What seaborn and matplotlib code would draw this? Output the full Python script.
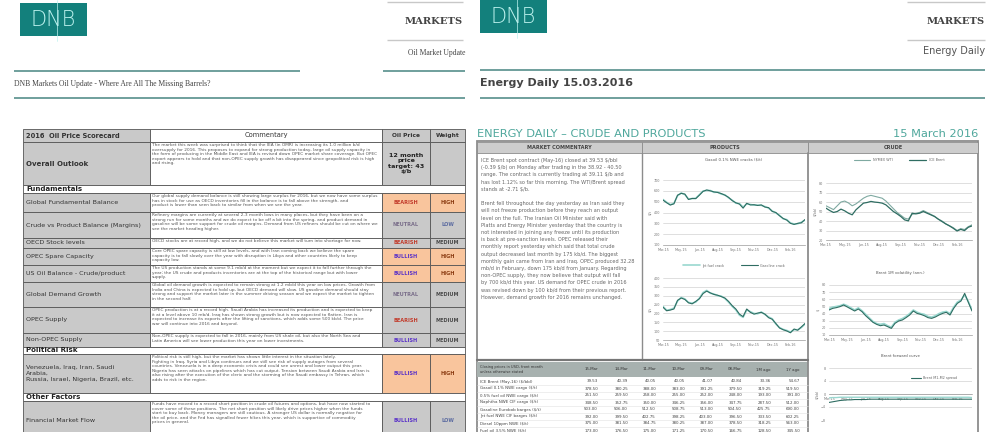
import textwrap
import pandas as pd
import matplotlib
matplotlib.use("Agg")
import matplotlib.pyplot as plt
from matplotlib.patches import Rectangle
import seaborn as sns

sns.set_theme(style="white")
plt.rcParams['font.family'] = ['DejaVu Sans']

W, H = 995, 432
TEAL = "#13807c"
RULE = "#6f9f9c"
GRAY = "#c9c9c9"
ORANGE = "#f9c59d"
DARK = "#2f6d62"
LIGHT = "#9ad8d0"

# ---- left page: oil price scorecard ----
score_labels = ["Overall Outlook", "Fundamentals", "Global Fundamental Balance",
                "Crude vs Product Balance (Margins)", "OECD Stock levels", "OPEC Spare Capacity",
                "US Oil Balance - Crude/product", "Global Demand Growth", "OPEC Supply",
                "Non-OPEC Supply", "Political Risk",
                "Venezuela, Iraq, Iran, Saudi\nArabia,\nRussia, Israel, Nigeria, Brazil, etc.",
                "Other Factors", "Financial Market Flow"]
score_signal = ["12 month\nprice\ntarget: 43\n$/b", None, "BEARISH", "NEUTRAL", "BEARISH", "BULLISH",
                "BULLISH", "NEUTRAL", "BEARISH", "BULLISH", None, "BULLISH", None, "BULLISH"]
score_weight = ["", None, "HIGH", "LOW", "MEDIUM", "HIGH", "HIGH", "MEDIUM", "MEDIUM", "MEDIUM",
                None, "HIGH", None, "LOW"]
score_comment = [
    "The market this week was surprised to think that the IEA (in OMR) is increasing its 1.0 million b/d oversupply for 2016. This proposes to expand for strong production today, large oil supply capacity in the form of producing in the Middle East and IEA is revised down OPEC market share coverage. But OPEC export appears to hold and that non-OPEC supply growth has disappeared since geopolitical risk is high and rising.",
    "Our global supply demand balance is still showing large surplus for 2016, but we now have some surplus has in stock for use as OECD inventories fill in the balance is to fall above the strength, and product is lower than seen back to similar from when we see the year.",
    "Refinery margins are currently at several 2-3 month lows in many places, but they have been on a strong run for some months and we do expect to be off a bit into the spring, and product demand in gasoline will be some support for crude oil margins. Demand from US refiners should be cut on where we see the market heading higher.",
    "OECD stocks are at record high, and we do not believe this market will turn into shortage for now.",
    "Core OPEC spare capacity is still at low levels, and with Iran coming back we believe the spare capacity is to fall slowly over the year with disruption in Libya and other countries likely to keep capacity low.",
    "The US production stands at some 9.1 mb/d at the moment but we expect it to fall further through the year; the US crude and products inventories are at the top of the historical range but with lower supply.",
    "Global oil demand growth is expected to remain strong at 1.2 mb/d this year on low prices. Growth from India and China is expected to hold up, but OECD demand will slow. US gasoline demand should stay strong and support the market later in the summer driving season and we expect the market to tighten in the second half.",
    "OPEC production is at a record high. Saudi Arabia has increased its production and is expected to keep it at a level above 10 mb/d. Iraq has shown strong growth but is now expected to flatten. Iran is expected to increase its exports after the lifting of sanctions, which adds some 500 kb/d. The price war will continue into 2016 and beyond.",
    "Non-OPEC supply is expected to fall in 2016, mainly from US shale oil, but also the North Sea and Latin America will see lower production this year on lower investments.",
    "Political risk is still high, but the market has shown little interest in the situation lately. Fighting in Iraq, Syria and Libya continues and we still see risk of supply outages from several countries. Venezuela is in a deep economic crisis and could see unrest and lower output this year. Nigeria has seen attacks on pipelines which has cut output. Tension between Saudi Arabia and Iran is also rising after the execution of the cleric and the storming of the Saudi embassy in Tehran, which adds to risk in the region.",
    "Funds have moved to a record short position in crude oil futures and options, but have now started to cover some of these positions. The net short position will likely drive prices higher when the funds start to buy back. Money managers are still cautious. A stronger US dollar is normally negative for the oil price, and the Fed has signalled fewer hikes this year, which is supportive of commodity prices in general.",
]
row_edges = [142, 185, 193, 212, 238, 248, 265, 282, 307, 333, 347, 354, 393, 401, 440]
col_edges = [23, 150, 382, 430, 465]
signal_color = {"BEARISH": "#c23b2b", "BULLISH": "#5a32c8", "NEUTRAL": "#7a6e8a"}
weight_color = {"HIGH": "#8a3a10", "LOW": "#5a6aa0", "MEDIUM": "#4a4a4a"}

# ---- right page: commentary, charts and table ----
commentary_p1 = ("ICE Brent spot contract (May-16) closed at 39.53 $/bbl (-0.39 $/b) on Monday after "
                 "trading in the 38.92 - 40.50 range. The contract is currently trading at 39.11 $/b and "
                 "has lost 1.12% so far this morning. The WTI/Brent spread stands at -2.71 $/b.")
commentary_p2 = ("Brent fell throughout the day yesterday as Iran said they will not freeze production "
                 "before they reach an output level on the full. The Iranian Oil Minister said with Platts "
                 "and Energy Minister yesterday that the country is not interested in joining any freeze "
                 "until its production is back at pre-sanction levels. OPEC released their monthly report "
                 "yesterday which said that total crude output decreased last month by 175 kb/d. The biggest "
                 "monthly gain came from Iran and Iraq. OPEC produced 32.28 mb/d in February, down 175 kb/d "
                 "from January. Regarding non-OPEC supply, they now believe that output will fall by "
                 "700 kb/d this year. US demand for OPEC crude in 2016 was revised down by 100 kb/d from "
                 "their previous report. However, demand growth for 2016 remains unchanged.")

chart_dates = pd.date_range("2015-03-16", "2016-03-14", periods=40)
gasoil_dark = [515, 490, 469, 480, 560, 577, 570, 520, 530, 528, 560, 595, 608, 600, 590, 585, 575, 560, 540, 510,
               490, 478, 440, 485, 470, 472, 465, 470, 450, 445, 410, 400, 370, 345, 330, 300, 290, 300, 305, 335]
gasoil_light = [520, 495, 472, 485, 555, 580, 566, 525, 528, 532, 565, 598, 604, 603, 586, 588, 570, 563, 536, 514,
                486, 482, 450, 480, 474, 468, 468, 466, 455, 440, 414, 396, 374, 342, 334, 304, 294, 296, 310, 330]
brent = [53.5, 51.0, 49.0, 50.0, 52.5, 50.7, 48.2, 46.5, 51.8, 55.3, 58.8, 59.5, 60.6, 59.9, 59.5, 58.8, 57.0, 53.5,
         50.0, 47.5, 44.7, 41.2, 40.1, 48.2, 47.5, 48.2, 50.0, 48.2, 46.5, 44.7, 41.9, 39.4, 36.9, 34.8, 32.3, 29.5,
         31.2, 29.9, 33.4, 34.8]
wti = [56.0, 54.0, 52.0, 56.0, 60.0, 61.0, 59.0, 56.0, 58.0, 61.0, 64.0, 66.0, 67.0, 66.0, 65.0, 64.0, 61.0, 57.0,
       53.0, 49.0, 46.0, 43.0, 42.0, 47.0, 48.0, 49.0, 51.0, 49.0, 47.0, 45.0, 42.0, 40.0, 37.0, 35.0, 33.0, 30.0,
       32.0, 31.0, 34.0, 36.0]
crack_dark = [235, 215, 219, 225, 274, 287, 279, 260, 254, 268, 283, 312, 326, 316, 307, 303, 295, 287, 268, 244,
              225, 196, 182, 225, 206, 196, 202, 206, 196, 176, 167, 143, 118, 108, 101, 91, 112, 105, 124, 143]
crack_light = [240, 218, 222, 230, 270, 290, 282, 262, 258, 264, 286, 318, 330, 314, 310, 300, 298, 284, 264, 240,
               220, 190, 178, 220, 210, 200, 198, 208, 194, 180, 170, 140, 120, 110, 104, 95, 108, 108, 120, 140]
spread_dark = [45.0, 47.3, 48.3, 49.7, 52.0, 49.2, 46.4, 43.6, 46.4, 42.7, 37.0, 32.4, 27.7, 24.9, 23.0, 24.0, 21.7,
               19.3, 26.3, 29.6, 31.0, 34.3, 38.0, 43.6, 40.3, 38.9, 37.0, 34.3, 33.3, 35.2, 38.0, 40.3, 41.8, 38.0,
               47.3, 54.3, 57.6, 68.3, 55.7, 43.6]
spread_light = [47.0, 49.0, 50.0, 51.0, 53.0, 51.0, 48.0, 45.0, 48.0, 44.0, 39.0, 34.0, 29.0, 26.0, 25.0, 26.0, 23.0,
                21.0, 28.0, 31.0, 33.0, 36.0, 40.0, 45.0, 42.0, 40.0, 39.0, 36.0, 35.0, 37.0, 40.0, 42.0, 43.0, 40.0,
                49.0, 56.0, 59.0, 66.0, 57.0, 45.0]
curve_dark = [-2.6, -2.4, -2.2, -2.0, -1.9, -1.8, -1.8, -1.7, -1.7, -1.7, -1.7, -1.6, -1.6, -1.6, -1.6, -1.6, -1.6,
              -1.6, -1.6, -1.6, -1.6, -1.6, -1.6, -1.6, -1.6, -1.6, -1.6, -1.6, -1.6, -1.6, -1.6, -1.6, -1.6, -1.6,
              -1.6, -1.6, -1.6, -1.6, -1.6, -1.6]
curve_light = [-1.2, -1.1, -1.1, -1.0, -1.0, -1.0, -1.0, -1.0, -1.0, -1.0, -1.0, -1.0, -1.0, -1.0, -1.0, -1.0, -1.0,
               -1.0, -1.0, -1.0, -1.0, -1.0, -1.0, -1.0, -1.0, -1.0, -1.0, -1.0, -1.0, -1.0, -1.0, -1.0, -1.0, -1.0,
               -1.0, -1.0, -1.0, -1.0, -1.0, -1.1]

table_cols = ["15-Mar", "14-Mar", "11-Mar", "10-Mar", "09-Mar", "08-Mar", "1M ago", "1Y ago"]
table_rows = ["ICE Brent (May-16) ($/bbl)", "Gasoil 0.1% NWE cargo ($/t)", "0.5% fuel oil NWE cargo ($/t)",
              "Naphtha NWE CIF cargo ($/t)", "Gasoline Eurobob barges ($/t)", "Jet fuel NWE CIF barges ($/t)",
              "Diesel 10ppm NWE ($/t)", "Fuel oil 3.5% NWE ($/t)"]
table_vals = [[39.53, 40.39, 40.05, 40.05, 41.07, 40.84, 33.36, 54.67],
              [378.5, 380.25, 388.00, 383.00, 391.25, 379.50, 319.25, 519.50],
              [251.5, 259.50, 258.00, 255.00, 252.00, 248.00, 193.00, 391.00],
              [348.5, 352.75, 350.00, 346.25, 356.00, 347.75, 287.50, 512.00],
              [503.0, 506.00, 512.50, 508.75, 513.00, 504.50, 425.75, 690.00],
              [392.0, 399.50, 402.75, 398.25, 403.00, 396.50, 333.50, 602.25],
              [375.0, 381.50, 384.75, 380.25, 387.00, 378.50, 318.25, 563.00],
              [173.0, 176.50, 175.00, 171.25, 170.50, 166.75, 128.50, 345.50]]

fig = plt.figure(figsize=(W / 100, H / 100), dpi=100)
base = fig.add_axes([0, 0, 1, 1])
base.set_xlim(0, W)
base.set_ylim(H, 0)
base.axis("off")


def box(x0, y0, x1, y1, fc, ec="#555555", lw=0.6, z=1):
    base.add_patch(Rectangle((x0, y0), x1 - x0, y1 - y0, facecolor=fc, edgecolor=ec, lw=lw, zorder=z))


def hline(y, x0, x1, color=RULE, lw=1.4):
    base.plot([x0, x1], [y, y], color=color, lw=lw, solid_capstyle="butt")


def logo(x0, y0):
    box(x0, y0, x0 + 67, y0 + 33, TEAL, ec=TEAL, lw=0)
    base.text(x0 + 33, y0 + 17, "DNB", color="#bdf2ee", fontsize=15, ha="center", va="center",
              family="DejaVu Sans", weight="light", zorder=3)
    base.plot([x0 + 37, x0 + 37], [y0 - 3, y0 + 38], color="#bdf2ee", lw=0.5, zorder=3)


# page headers
logo(20, 3)
hline(2, 387, 463, color="#c8c8c8", lw=1)
hline(40, 387, 463, color="#c8c8c8", lw=1)
base.text(463, 21, "MARKETS", family="DejaVu Serif", weight="bold", fontsize=7.2, color="#444", ha="right", va="center")
base.text(465, 53, "Oil Market Update", family="Liberation Serif", fontsize=5.5, color="#444", ha="right", va="center")
hline(71, 14, 300)
hline(71, 383, 465)
base.text(14, 84, "DNB Markets Oil Update - Where Are All The Missing Barrels?", family="Liberation Serif",
          fontsize=5.5, color="#444", va="center")
hline(98, 14, 465)

logo(480, 0)
hline(2, 907, 985, color="#c8c8c8", lw=1)
hline(40, 907, 985, color="#c8c8c8", lw=1)
base.text(985, 21, "MARKETS", family="DejaVu Serif", weight="bold", fontsize=7.2, color="#444", ha="right", va="center")
base.text(985, 51, "Energy Daily", fontsize=7, color="#555", ha="right", va="center")
hline(70, 480, 985)
base.text(480, 83, "Energy Daily 15.03.2016", fontsize=8, weight="bold", color="#444", va="center")
hline(98, 480, 985)

# scorecard table
box(col_edges[0], 129, col_edges[1], 142, GRAY)
box(col_edges[1], 129, col_edges[2], 142, "white")
box(col_edges[2], 129, col_edges[3], 142, GRAY)
box(col_edges[3], 129, col_edges[4], 142, GRAY)
base.text(26, 135.5, "2016  Oil Price Scorecard", fontsize=4.8, weight="bold", color="#333", va="center")
base.text((col_edges[1] + col_edges[2]) / 2, 135.5, "Commentary", fontsize=4.8, color="#333", ha="center", va="center")
base.text((col_edges[2] + col_edges[3]) / 2, 135.5, "Oil Price", fontsize=4.2, weight="bold", color="#333", ha="center", va="center")
base.text((col_edges[3] + col_edges[4]) / 2, 135.5, "Weight", fontsize=4.2, weight="bold", color="#333", ha="center", va="center")

comments = iter(score_comment)
for i, label in enumerate(score_labels):
    y0, y1 = row_edges[i], row_edges[i + 1]
    ym = (y0 + y1) / 2
    if score_signal[i] is None:
        box(col_edges[0], y0, col_edges[4], y1, "white")
        base.text(26, ym, label, fontsize=5, weight="bold", color="#222", va="center")
        continue
    hot = score_weight[i] == "HIGH"
    box(col_edges[0], y0, col_edges[1], y1, GRAY)
    box(col_edges[1], y0, col_edges[2], y1, "white")
    box(col_edges[2], y0, col_edges[3], y1, ORANGE if hot else GRAY)
    box(col_edges[3], y0, col_edges[4], y1, ORANGE if hot else GRAY)
    base.text(26, ym, label, fontsize=4.6 if i else 5, weight="bold" if i == 0 else "normal",
              color="#333", va="center", linespacing=1.3)
    lines = textwrap.wrap(next(comments), 102)
    nmax = max(1, int((y1 - y0 - 1) // 5.3))
    base.text(col_edges[1] + 2, y0 + 1.2, "\n".join(lines[:nmax]), fontsize=3.1, color="#555",
              va="top", linespacing=1.18)
    sx = (col_edges[2] + col_edges[3]) / 2
    wx = (col_edges[3] + col_edges[4]) / 2
    if i == 0:
        base.text(sx, ym, score_signal[i], fontsize=4.6, weight="bold", color="#222", ha="center", va="center",
                  linespacing=1.1)
    else:
        base.text(sx, ym, score_signal[i], fontsize=3.6, weight="bold", color=signal_color[score_signal[i]],
                  ha="center", va="center")
        base.text(wx, ym, score_weight[i], fontsize=3.6, weight="bold", color=weight_color[score_weight[i]],
                  ha="center", va="center")

# energy daily page
base.text(477, 134, "ENERGY DAILY \u2013 CRUDE AND PRODUCTS", fontsize=8.2, color="#4fa79c", va="center")
base.text(978, 134, "15 March 2016", fontsize=8.2, color="#4fa79c", ha="right", va="center")
box(477, 141, 978, 445, "white", ec="#8c8c8c", lw=1.3)
box(477, 142, 642, 153, "#cdcdcd", ec="#8c8c8c", lw=0.6)
box(642, 142, 808, 153, "#cdcdcd", ec="#8c8c8c", lw=0.6)
box(808, 142, 978, 153, "#cdcdcd", ec="#8c8c8c", lw=0.6)
base.text(559, 147.5, "MARKET COMMENTARY", fontsize=3.6, weight="bold", color="#444", ha="center", va="center")
base.text(725, 147.5, "PRODUCTS", fontsize=3.6, weight="bold", color="#444", ha="center", va="center")
base.text(893, 147.5, "CRUDE", fontsize=3.6, weight="bold", color="#444", ha="center", va="center")
base.plot([642, 642], [153, 360], color="#8c8c8c", lw=1.0)
base.plot([808, 808], [153, 440], color="#8c8c8c", lw=1.3)
base.plot([477, 808], [360, 360], color="#777", lw=1.6)

para = "\n".join(textwrap.wrap(commentary_p1, 57)) + "\n\n" + "\n".join(textwrap.wrap(commentary_p2, 57))
base.text(481, 158, para, fontsize=3.6, color="#666", va="top", linespacing=1.55)

# right-page data table
box(477, 362, 808, 377, "#a7b1af", ec="#a7b1af", lw=0)
base.text(480, 369.5, "Closing prices in USD, front month\nunless otherwise stated", fontsize=2.6, color="#333",
          va="center", linespacing=1.2)
col_x = [598, 628, 656, 685, 713, 742, 771, 800]
for cx, cname in zip(col_x, table_cols):
    base.text(cx, 369.5, cname, fontsize=2.8, color="#333", ha="right", va="center")
for r, (rname, vals) in enumerate(zip(table_rows, table_vals)):
    ry = 381.5 + r * 7
    base.text(480, ry, rname, fontsize=2.9, color="#444", va="center")
    base.plot([477, 808], [ry + 3.5, ry + 3.5], color="#e2e2e2", lw=0.4)
    for cx, v in zip(col_x, vals):
        base.text(cx, ry, f"{v:.2f}", fontsize=2.9, color="#444", ha="right", va="center")


def chart_ax(x, y, w, h):
    return fig.add_axes([x / W, 1 - (y + h) / H, w / W, h / H])


def style_chart(ax, yticks, ylabel):
    ax.set_facecolor("none")
    ax.set_ylim(yticks[0], yticks[-1])
    ax.set_yticks(yticks)
    ax.grid(axis="y", color="#d2d2d2", lw=0.5)
    ax.grid(axis="x", visible=False)
    for s in ["top", "right", "left"]:
        ax.spines[s].set_visible(False)
    ax.spines["bottom"].set_color("#9a9a9a")
    ax.spines["bottom"].set_linewidth(0.5)
    ax.set_xticks(chart_dates[::5])
    ax.set_xticklabels([d.strftime("%b-%y") for d in chart_dates[::5]])
    ax.tick_params(labelsize=2.4, colors="#777", length=1, width=0.4, pad=1.2)
    ax.set_xlim(chart_dates[0], chart_dates[-1])
    ax.set_xlabel("")
    ax.set_ylabel(ylabel, fontsize=2.6, color="#777", labelpad=1)


def legend_top(ax, y=1.22):
    ax.legend(loc="lower center", bbox_to_anchor=(0.5, y), ncol=2, frameon=False, fontsize=2.4,
              handlelength=5, columnspacing=5, labelcolor="#666")


ax1 = chart_ax(663, 180, 142, 65)
df1 = pd.DataFrame({"date": chart_dates, "dark": gasoil_dark, "light": gasoil_light})
sns.lineplot(data=df1, x="date", y="light", ax=ax1, color=LIGHT, lw=1.2)
sns.lineplot(data=df1, x="date", y="dark", ax=ax1, color=DARK, lw=0.8)
style_chart(ax1, [100, 200, 300, 400, 500, 600, 700], "$/t")
ax1.set_title("Gasoil 0.1% NWE cracks ($/t)", fontsize=2.8, color="#555", pad=14)

ax2 = chart_ax(826, 183, 146, 57)
df2 = pd.DataFrame({"date": chart_dates, "ICE Brent": brent, "NYMEX WTI": wti})
sns.lineplot(data=df2, x="date", y="NYMEX WTI", ax=ax2, color="#7fa9a1", lw=0.8, label="NYMEX WTI")
sns.lineplot(data=df2, x="date", y="ICE Brent", ax=ax2, color=DARK, lw=0.9, label="ICE Brent")
style_chart(ax2, [20, 30, 40, 50, 60, 70, 80], "$/bbl")
legend_top(ax2, 1.32)

ax3 = chart_ax(663, 278, 142, 62)
df3 = pd.DataFrame({"date": chart_dates, "Gasoline crack": crack_dark, "Jet crack": crack_light})
sns.lineplot(data=df3, x="date", y="Jet crack", ax=ax3, color=LIGHT, lw=1.2, label="Jet fuel crack")
sns.lineplot(data=df3, x="date", y="Gasoline crack", ax=ax3, color=DARK, lw=0.8, label="Gasoline crack")
style_chart(ax3, [50, 100, 150, 200, 250, 300, 350, 400], "$/t")
legend_top(ax3, 1.12)

ax4 = chart_ax(829, 285, 143, 50)
df4 = pd.DataFrame({"date": chart_dates, "dark": spread_dark, "light": spread_light})
sns.lineplot(data=df4, x="date", y="light", ax=ax4, color=LIGHT, lw=1.2)
sns.lineplot(data=df4, x="date", y="dark", ax=ax4, color=DARK, lw=0.8)
style_chart(ax4, [10, 20, 30, 40, 50, 60, 70, 80], "$")
ax4.set_title("Brent 1M volatility (ann.)", fontsize=2.8, color="#555", pad=8)

ax5 = chart_ax(829, 368, 143, 52)
df5 = pd.DataFrame({"date": chart_dates, "M1-M2": curve_dark, "M1-M12": curve_light})
sns.lineplot(data=df5, x="date", y="M1-M12", ax=ax5, color=LIGHT, lw=1.0)
sns.lineplot(data=df5, x="date", y="M1-M2", ax=ax5, color=DARK, lw=0.8, label="Brent M1-M2 spread")
style_chart(ax5, [-8, -4, 0, 4, 8], "$/bbl")
ax5.spines["bottom"].set_position(("data", 0))
ax5.legend(loc="upper right", bbox_to_anchor=(0.92, 0.9), frameon=False, fontsize=2.4, handlelength=3,
           labelcolor="#666")
ax5.set_title("Brent forward curve", fontsize=2.8, color="#555", pad=8)

fig.savefig("out.png", dpi=100)
